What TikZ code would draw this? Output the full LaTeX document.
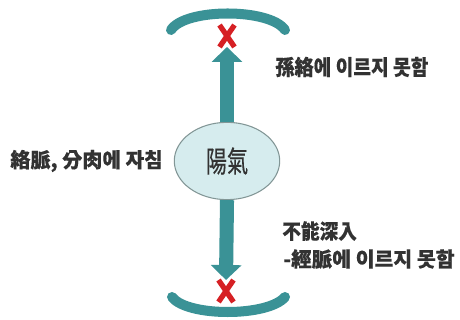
\documentclass[tikz,border=0pt]{standalone}
\usepackage{fontspec}
\setmainfont{Noto Sans CJK KR}[FakeBold=0.3]
\usetikzlibrary{arrows.meta,shapes.misc,shapes.geometric}
\definecolor{yangteal}{RGB}{58,146,150}
\definecolor{yangfill}{RGB}{214,236,238}
\definecolor{yangedge}{RGB}{130,150,150}
\definecolor{blockred}{RGB}{214,32,36}
\definecolor{labelgray}{RGB}{50,50,50}
\tikzset{
  label text/.style={anchor=west, inner sep=0pt, text=labelgray,
    font=\fontsize{10.6}{12}\bfseries},
  block/.style={cross out, draw=blockred, line width=3pt, minimum width=5.5pt,
    minimum height=9.5pt, inner sep=0pt},
  flow/.style={yangteal, line width=8pt, -{Triangle[width=17pt, length=8.5pt]}},
  barrier/.style={yangteal, line width=5.7pt, line cap=round}
}
\begin{document}
\begin{tikzpicture}[x=0.02cm, y=-0.02cm]
                    \useasboundingbox [fill=white] (0, 0) rectangle (460, 320);
                    % yang qi in the middle
                    \node [ellipse, draw=yangedge, fill=yangfill, line width=0.6pt,
                      minimum width=60pt, minimum height=44pt, inner sep=0pt,
                      font=\fontsize{12}{14}\selectfont, text=labelgray]
                      (yang) at (227, 161){\scalebox{1}[1.4]{陽氣}};
                    % blocked points
                    \node [block] (xtop) at (227, 36){};
                    \node [block] (xbot) at (226, 291){};
                    \draw [flow] (yang.north) -- (xtop.south);
                    \draw [flow] (yang.south) -- (xbot.north);
                    % barriers
                    \draw [barrier] (171, 30) .. controls (185, 8) and (270, 8) .. (285, 30);
                    \draw [barrier] (172, 297) .. controls (187, 317) and (268, 317) .. (285, 297);
                    % labels
                    \node [label text] (sunlak) at (275, 67){\scalebox{1.03}[1.15]{孫絡에 이르지 못함}};
                    \node [label text] (naklak) at (10, 161){\scalebox{1.08}[1.1]{絡脈, 分肉에 자침}};
                    \node [label text] (budong) at (282, 231){\scalebox{1}[1.1]{不能深入}};
                    \node [label text] (gyeong) at (283, 259){\scalebox{1.1}[1.1]{-經脈에 이르지 못함}};
\end{tikzpicture}
\end{document}
